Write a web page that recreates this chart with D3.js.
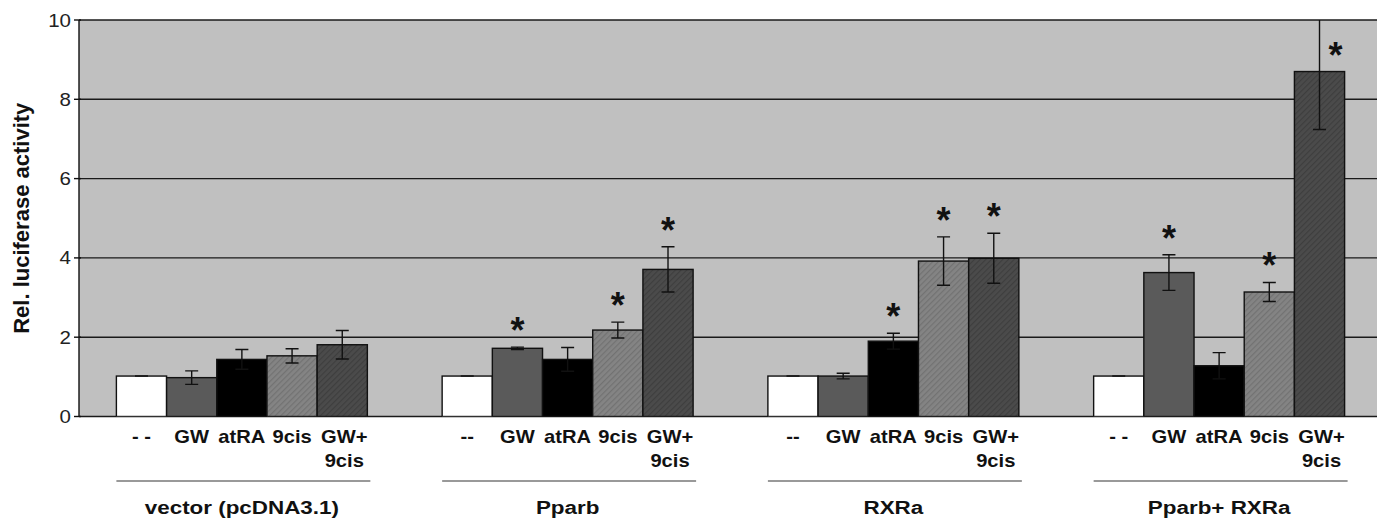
<!DOCTYPE html>
<html>
<head>
<meta charset="utf-8">
<script src="https://cdn.jsdelivr.net/npm/d3@7"></script>
<style>
  body { margin: 0; background: #fff; }
  svg { display: block; font-family: "Liberation Sans", Arial, sans-serif; }
</style>
</head>
<body>
<div id="chart"></div>
<script>
// dữ liệu
const groups = ["vector (pcDNA3.1)", "Pparb", "RXRa", "Pparb+ RXRa"];
const series = ["ctrl", "GW", "atRA", "9cis", "GW+9cis"];
const catLabels = [
  ["- -", "GW", "atRA", "9cis", "GW+|9cis"],
  ["--", "GW", "atRA", "9cis", "GW+|9cis"],
  ["--", "GW", "atRA", "9cis", "GW+|9cis"],
  ["- -", "GW", "atRA", "9cis", "GW+|9cis"]
];
const values = [
  [1.02, 0.98, 1.44, 1.53, 1.81],
  [1.02, 1.72, 1.44, 2.18, 3.71],
  [1.02, 1.02, 1.90, 3.92, 3.99],
  [1.02, 3.63, 1.28, 3.14, 8.70]
];
const errors = [
  [0, 0.17, 0.25, 0.18, 0.36],
  [0, 0.03, 0.30, 0.20, 0.57],
  [0, 0.07, 0.20, 0.61, 0.63],
  [0, 0.45, 0.33, 0.24, 1.46]
];
const stars = [
  [0, 0, 0, 0, 0],
  [0, 1, 0, 1, 1],
  [0, 0, 1, 1, 1],
  [0, 1, 0, 1, 1]
];
const yTicks = [0, 2, 4, 6, 8, 10];

const W = 1377, H = 519;
const m = { left: 79, top: 20, bottom: 416.5, right: 1382 };

const svg = d3.select("#chart").append("svg")
    .attr("width", W).attr("height", H);

// chữ kéo giãn ngang như hình gốc
function label(parent, x, yy, txt, size, anchor, sx) {
  return parent.append("text")
    .attr("transform", `translate(${x},${yy}) scale(${sx},1)`)
    .attr("text-anchor", anchor)
    .style("font-size", size + "px").style("font-weight", "bold")
    .attr("fill", "#111")
    .text(txt);
}

// hoa văn sọc chéo
const defs = svg.append("defs");
function hatch(id, base, stripe) {
  const p = defs.append("pattern").attr("id", id)
      .attr("patternUnits", "userSpaceOnUse")
      .attr("width", 4).attr("height", 4)
      .attr("patternTransform", "rotate(45)");
  p.append("rect").attr("width", 4).attr("height", 4).attr("fill", base);
  p.append("rect").attr("width", 1.2).attr("height", 4).attr("fill", stripe);
}
hatch("h9cis", "#848484", "#727272");
hatch("hgw9", "#4b4b4b", "#3e3e3e");
const fills = ["#ffffff", "#5a5a5a", "#000000", "url(#h9cis)", "url(#hgw9)"];

defs.append("clipPath").attr("id", "plot")
  .append("rect").attr("x", m.left).attr("y", m.top)
  .attr("width", m.right - m.left).attr("height", m.bottom - m.top);

const x0 = d3.scaleBand().domain(groups).range([m.left, m.right]).padding(0);
const x1 = d3.scaleBand().domain(series).range([0, x0.bandwidth()])
    .paddingInner(0).paddingOuter(0.745);
const y = d3.scaleLinear().domain([0, 10]).range([m.bottom, m.top]);

// nền xám
svg.append("rect").attr("x", m.left).attr("y", m.top)
  .attr("width", m.right - m.left).attr("height", m.bottom - m.top)
  .attr("fill", "#c0c0c0");

// lưới ngang
svg.append("g").selectAll("line").data(yTicks).join("line")
  .attr("x1", m.left).attr("x2", m.right)
  .attr("y1", d => y(d)).attr("y2", d => y(d))
  .attr("stroke", "#1a1a1a").attr("stroke-width", 1.4);

const rows = [];
groups.forEach((g, gi) => series.forEach((s, si) => rows.push({
  g, s, gi, si, v: values[gi][si], e: errors[gi][si], star: stars[gi][si]
})));

const plot = svg.append("g").attr("clip-path", "url(#plot)");

plot.selectAll(".bar").data(rows).join("rect")
  .attr("class", "bar")
  .attr("x", d => x0(d.g) + x1(d.s))
  .attr("y", d => y(d.v))
  .attr("width", x1.bandwidth())
  .attr("height", d => y(0) - y(d.v))
  .attr("fill", d => fills[d.si])
  .attr("stroke", "#111").attr("stroke-width", 1.4);

// thanh sai số
const eb = plot.selectAll(".err").data(rows).join("g").attr("class", "err")
  .attr("transform", d => `translate(${x0(d.g) + x1(d.s) + x1.bandwidth() / 2},0)`);
eb.append("line")
  .attr("y1", d => y(d.v - d.e)).attr("y2", d => y(d.v + d.e))
  .attr("stroke", "#111").attr("stroke-width", 1.4);
eb.filter(d => d.v + d.e < 10).append("line")
  .attr("x1", -6.5).attr("x2", 6.5)
  .attr("y1", d => y(d.v + d.e)).attr("y2", d => y(d.v + d.e))
  .attr("stroke", "#111").attr("stroke-width", 1.4);
eb.filter(d => d.e > 0).append("line")
  .attr("x1", -6.5).attr("x2", 6.5)
  .attr("y1", d => y(d.v - d.e)).attr("y2", d => y(d.v - d.e))
  .attr("stroke", "#111").attr("stroke-width", 1.4);

// dấu sao
svg.selectAll(".star").data(rows.filter(d => d.star)).join("text")
  .attr("class", "star")
  .attr("x", d => x0(d.g) + x1(d.s) + x1.bandwidth() / 2 + (d.v + d.e > 10 ? 16 : 0))
  .attr("y", d => (d.v + d.e > 10 ? y(d.v) : y(d.v + d.e)) - 4)
  .attr("text-anchor", "middle")
  .style("font-size", "36px").style("font-weight", "bold")
  .attr("fill", "#111")
  .text("*");

// trục Y
svg.append("line").attr("x1", m.left).attr("x2", m.left)
  .attr("y1", m.top).attr("y2", m.bottom)
  .attr("stroke", "#111").attr("stroke-width", 1.4);
svg.append("g").selectAll("line").data(yTicks).join("line")
  .attr("x1", m.left - 5).attr("x2", m.left + 2)
  .attr("y1", d => y(d)).attr("y2", d => y(d))
  .attr("stroke", "#111").attr("stroke-width", 1.4);
const tickG = svg.append("g");
yTicks.forEach(t => {
  label(tickG, m.left - 8, y(t) + 6.5, t, 18, "end", 1.14)
    .style("font-weight", "normal").attr("fill", "#222");
});

svg.append("text")
  .attr("transform", `translate(29,${(m.top + m.bottom) / 2}) rotate(-90)`)
  .attr("text-anchor", "middle")
  .style("font-size", "22px").style("font-weight", "bold").attr("fill", "#111")
  .text("Rel. luciferase activity");

// nhãn trục X
const lab = svg.append("g");
rows.forEach(d => {
  const cx = x0(d.g) + x1(d.s) + x1.bandwidth() / 2;
  const parts = catLabels[d.gi][d.si].split("|");
  parts.forEach((t, i) => {
    label(lab, cx + (parts.length > 1 ? 2 : 0), 443 + i * 24, t, 18, "middle", 1.12);
  });
});

groups.forEach(g => {
  const a = x0(g) + x1(series[0]), b = x0(g) + x1(series[4]) + x1.bandwidth();
  svg.append("line").attr("x1", a).attr("x2", b + 3)
    .attr("y1", 481).attr("y2", 481)
    .attr("stroke", "#777").attr("stroke-width", 1.6);
  label(svg, (a + b) / 2, 514, g, 19, "middle", 1.18);
});
</script>
</body>
</html>
